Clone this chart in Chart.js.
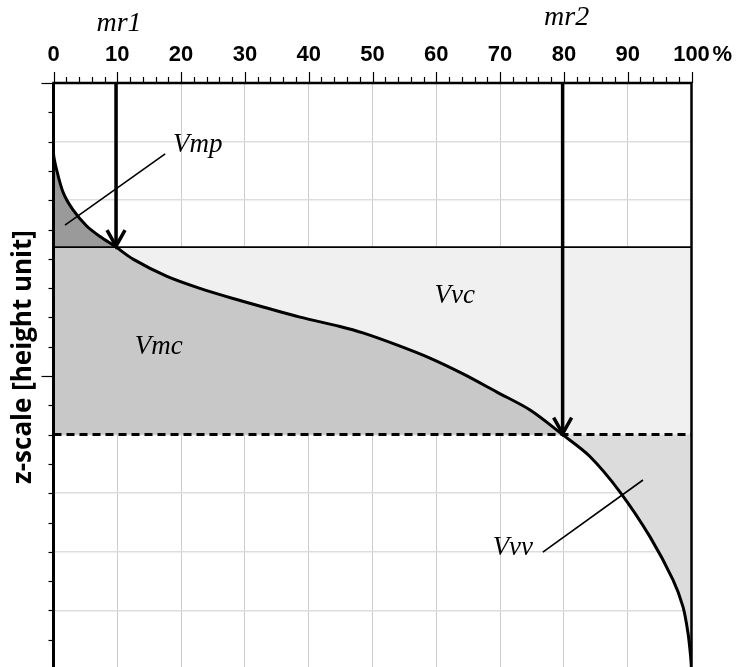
<!DOCTYPE html>
<html>
<head>
<meta charset="utf-8">
<script src="https://cdn.jsdelivr.net/npm/chart.js@4.4.1/dist/chart.umd.min.js"></script>
<style>
  html, body { margin: 0; padding: 0; background: #fff; overflow: hidden; }
  canvas { display: block; }
</style>
</head>
<body>
<canvas id="chart" width="738" height="680"></canvas>
<script>
// Bearing (Abbott-Firestone) curve: material ratio [%] against height z
const curveMr = [0, 0, 0.5, 1.54, 3.06, 5.2, 7.29, 9.8, 12.46, 17.79, 22.96, 28.13, 33.46, 38.64, 44.9, 48.5, 53.8, 59.0, 64.2, 69.5, 74.7, 79.8, 84.0, 88.8, 93.5, 97.1, 98.67, 99.45, 99.84, 100];
const curveZ  = [20, 17.61, 17.03, 16.25, 15.67, 15.12, 14.76, 14.4, 13.99, 13.40, 12.99, 12.645, 12.32, 12.01, 11.69, 11.47, 11.06, 10.61, 10.07, 9.45, 8.84, 8.0, 7.27, 6.04, 4.51, 3.04, 2.12, 1.23, 0.48, 0];

// Material ratios mr1, mr2 and the heights where they cut the curve
const mrNames = ['mr1', 'mr2'];
const mrCuts  = [9.8, 79.8];
const zCuts   = [14.4, 8.0];

// Axis ranges and tick labels
const xRange = [0, 100];
const zRange = [0, 20];
const xTickLabels = ['0', '10', '20', '30', '40', '50', '60', '70', '80', '90', '100'];

// Volume parameter names
const regionNames = ['Vmp', 'Vmc', 'Vvc', 'Vvv'];

// ---- layout of annotations (data units) ----
const notes = [
  { text: 'Vmp', x: 22.6, z: 17.9, lead: [[17.5, 17.58], [1.8, 15.15]] },
  { text: 'Vmc', x: 16.5, z: 11.0 },
  { text: 'Vvc', x: 62.9, z: 12.73 },
  { text: 'Vvv', x: 72.0, z: 4.13, lead: [[76.7, 3.99], [92.4, 6.45]] }
];

const curve = curveMr.map((m, i) => ({ x: m, y: curveZ[i] }));
const [z1, z2] = zCuts;
const [m1, m2] = mrCuts;
const upper = curve.filter(p => p.y >= z1);
const core = curve.filter(p => p.y <= z1 && p.y >= z2);
const lower = curve.filter(p => p.y <= z2);

const polyVmp = [...upper, { x: xRange[0], y: z1 }];
const polyVmc = [{ x: xRange[0], y: z1 }, ...core, { x: xRange[0], y: z2 }];
const polyVvc = [...core, { x: xRange[1], y: z2 }, { x: xRange[1], y: z1 }];
const polyVvv = [...lower, { x: xRange[1], y: z2 }];

const SERIF = '"Liberation Serif", "DejaVu Serif", serif';
const SANS = '"Liberation Sans", Arial, sans-serif';

function region(data, color, order) {
  return { data, showLine: true, fill: 'shape', backgroundColor: color, borderWidth: 0,
           pointRadius: 0, tension: 0, order };
}
function segment(data, width, dash, order) {
  return { data, showLine: true, fill: false, borderColor: '#000', borderWidth: width,
           borderDash: dash, pointRadius: 0, tension: 0, order, borderCapStyle: 'butt' };
}

const decor = {
  id: 'decor',
  afterDatasetsDraw(chart) {
    const { ctx, chartArea: a, scales: { x, y } } = chart;
    ctx.save();
    ctx.strokeStyle = '#000';
    ctx.fillStyle = '#000';

    // frame
    ctx.lineWidth = 2.5;
    ctx.beginPath();
    ctx.moveTo(a.left, a.bottom + 5); ctx.lineTo(a.left, a.top);
    ctx.lineTo(a.right, a.top); ctx.lineTo(a.right, a.bottom + 5);
    ctx.stroke();
    ctx.lineWidth = 3;
    ctx.beginPath(); ctx.moveTo(a.left, a.top); ctx.lineTo(a.left, a.bottom + 5); ctx.stroke();

    // tick marks, top axis
    ctx.lineWidth = 1.2;
    for (let v = xRange[0]; v <= xRange[1]; v += 2) {
      const px = Math.round(x.getPixelForValue(v)) + 0.5;
      const len = v % 10 === 0 ? 11 : 6;
      ctx.beginPath(); ctx.moveTo(px, a.top); ctx.lineTo(px, a.top - len); ctx.stroke();
    }
    // tick marks, left axis
    for (let v = zRange[0]; v <= zRange[1]; v += 1) {
      const py = Math.round(y.getPixelForValue(v)) + 0.5;
      const len = v % 10 === 0 ? 12 : 5;
      ctx.beginPath(); ctx.moveTo(a.left, py); ctx.lineTo(a.left - len, py); ctx.stroke();
    }

    // percent sign after the last tick label
    ctx.font = 'bold 22px ' + SANS;
    ctx.textAlign = 'left'; ctx.textBaseline = 'middle';
    ctx.fillText('%', x.getPixelForValue(xRange[1]) + 21, 55);

    // arrowheads where mr1 / mr2 meet the curve
    ctx.lineWidth = 3.5;
    ctx.lineJoin = 'miter';
    mrCuts.forEach((m, i) => {
      const px = x.getPixelForValue(m), py = y.getPixelForValue(zCuts[i]);
      ctx.beginPath();
      ctx.moveTo(px - 9, py - 17); ctx.lineTo(px, py - 1); ctx.lineTo(px + 9, py - 17);
      ctx.stroke();
    });

    // mr labels above the axis
    ctx.font = 'italic 28px ' + SERIF;
    ctx.textAlign = 'center'; ctx.textBaseline = 'alphabetic';
    ctx.fillText(mrNames[0], x.getPixelForValue(mrCuts[0]) + 3, 31);
    ctx.fillText(mrNames[1], x.getPixelForValue(mrCuts[1]) + 4, 25);

    // region labels and leader lines
    ctx.font = 'italic 27px ' + SERIF;
    ctx.lineWidth = 1.6;
    notes.forEach(n => {
      ctx.textBaseline = 'middle';
      ctx.fillText(n.text, x.getPixelForValue(n.x), y.getPixelForValue(n.z));
      if (n.lead) {
        ctx.beginPath();
        ctx.moveTo(x.getPixelForValue(n.lead[0][0]), y.getPixelForValue(n.lead[0][1]));
        ctx.lineTo(x.getPixelForValue(n.lead[1][0]), y.getPixelForValue(n.lead[1][1]));
        ctx.stroke();
      }
    });

    // vertical axis title
    ctx.save();
    ctx.translate(24, 357);
    ctx.rotate(-Math.PI / 2);
    ctx.font = 'bold 26px "Open Sans", "Noto Sans", sans-serif';
    ctx.textAlign = 'center'; ctx.textBaseline = 'middle';
    ctx.fillText('z-scale [height unit]', 0, 0);
    ctx.restore();

    ctx.restore();
  }
};

new Chart(document.getElementById('chart'), {
  type: 'scatter',
  data: {
    datasets: [
      { label: 'curve', data: curve, showLine: true, fill: false, borderColor: '#000', borderWidth: 3,
        pointRadius: 0, tension: 0.3, order: 1 },
      segment([{ x: m1, y: zRange[1] }, { x: m1, y: z1 }], 3.5, [], 0),
      segment([{ x: m2, y: zRange[1] }, { x: m2, y: z2 }], 3.5, [], 0),
      segment([{ x: xRange[0], y: z1 }, { x: xRange[1], y: z1 }], 1.8, [], 2),
      segment([{ x: xRange[0], y: z2 }, { x: xRange[1], y: z2 }], 3, [8, 5], 2),
      Object.assign(region(polyVmp, '#9a9a9a', 5), { label: regionNames[0] }),
      Object.assign(region(polyVmc, '#c8c8c8', 5), { label: regionNames[1] }),
      Object.assign(region(polyVvc, '#f0f0f0', 5), { label: regionNames[2] }),
      Object.assign(region(polyVvv, '#dcdcdc', 5), { label: regionNames[3] })
    ]
  },
  options: {
    responsive: false,
    animation: false,
    events: [],
    layout: { padding: { left: 0, right: 46.5, top: 0, bottom: 11 } },
    plugins: { legend: { display: false }, tooltip: { enabled: false } },
    scales: {
      x: {
        type: 'linear', position: 'top', min: xRange[0], max: xRange[1],
        border: { display: false },
        grid: {
          drawTicks: false, lineWidth: 1,
          color: c => {
            const v = c.tick ? Math.round(c.tick.value) : -1;
            return v % 10 === 0 && v > xRange[0] && v < xRange[1] ? '#cccccc' : 'rgba(0,0,0,0)';
          }
        },
        ticks: {
          stepSize: 2, autoSkip: false, maxRotation: 0, padding: 15, color: '#000',
          font: { family: SANS, size: 22, weight: 'bold' },
          callback: v => (Math.round(v) % 10 === 0 ? xTickLabels[Math.round(v) / 10] : '')
        },
        afterFit: s => { s.height = 83; }
      },
      y: {
        type: 'linear', min: zRange[0], max: zRange[1],
        border: { display: false },
        grid: {
          drawTicks: false, lineWidth: 1.5,
          color: c => {
            const v = c.tick ? Math.round(c.tick.value) : -1;
            return v % 2 === 0 && v > zRange[0] && v < zRange[1] ? '#dddddd' : 'rgba(0,0,0,0)';
          }
        },
        ticks: { stepSize: 1, display: false },
        afterFit: s => { s.width = 53.5; }
      }
    }
  },
  plugins: [decor]
});
</script>
</body>
</html>
